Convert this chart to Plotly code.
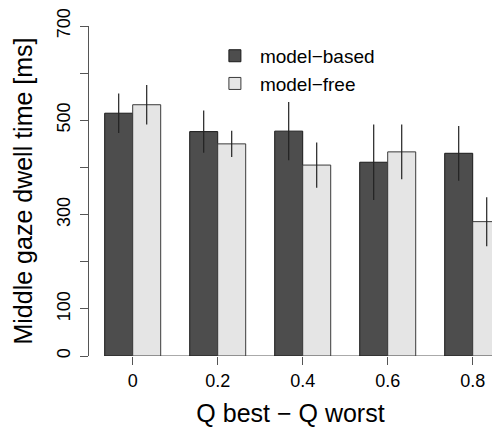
import plotly.graph_objects as go

categories = [0, 0.2, 0.4, 0.6, 0.8]
tick_labels = ["0", "0.2", "0.4", "0.6", "0.8"]
model_based = [515, 476, 477, 411, 430]
model_based_err = [42, 45, 62, 80, 58]
model_free = [533, 450, 405, 433, 285]
model_free_err = [42, 28, 48, 58, 52]
y_ticks = [0, 100, 200, 300, 400, 500, 600, 700]
y_tick_labels = ["0", "100", "", "300", "", "500", "", "700"]

FONT = "Liberation Sans, Arial, Helvetica, sans-serif"
BARGAP = 0.341
spacing = categories[1] - categories[0]

fig = go.Figure()
fig.add_trace(go.Bar(
    x=categories, y=model_based, name="model\u2212based",
    marker=dict(color="#4d4d4d", line=dict(color="#1a1a1a", width=1)),
    error_y=dict(type="data", array=model_based_err, visible=True,
                 width=0, thickness=1.2, color="#222222"),
))
fig.add_trace(go.Bar(
    x=categories, y=model_free, name="model\u2212free",
    marker=dict(color="#e5e5e5", line=dict(color="#3a3a3a", width=1)),
    error_y=dict(type="data", array=model_free_err, visible=True,
                 width=0, thickness=1.2, color="#222222"),
))

# R-style baseline from first bar edge to the right
x_left = categories[0] - spacing * (1 - BARGAP) / 2
fig.add_shape(type="line", xref="x", yref="y", x0=x_left, x1=categories[-1] + spacing,
              y0=0, y1=0, line=dict(color="#555555", width=1), layer="below")

fig.update_layout(
    width=492, height=430,
    margin=dict(l=89, r=0, t=26, b=74),
    paper_bgcolor="white", plot_bgcolor="white",
    barmode="group", bargap=BARGAP, bargroupgap=0,
    font=dict(family=FONT, color="black", size=18),
    showlegend=True,
    legend=dict(x=0.30, y=0.967, xanchor="left", yanchor="top",
                font=dict(size=19, family=FONT), itemwidth=40,
                bgcolor="rgba(0,0,0,0)", traceorder="normal"),
    xaxis=dict(
        range=[-0.1028, 0.8454], tickvals=categories, ticktext=tick_labels,
        ticks="outside", ticklen=8, tickcolor="#555555", tickwidth=1,
        showline=False, showgrid=False, zeroline=False,
        tickfont=dict(size=18),
        title=dict(text="Q best \u2212 Q worst", font=dict(size=25), standoff=14),
    ),
    yaxis=dict(
        range=[0, 700], tickvals=y_ticks, ticktext=y_tick_labels,
        ticks="outside", ticklen=8, tickcolor="#555555", tickwidth=1,
        showline=True, linecolor="#555555", linewidth=1,
        showgrid=False, zeroline=False, tickangle=-90,
        tickfont=dict(size=18), ticklabelstandoff=3,
        title=dict(text="Middle gaze dwell time [ms]", font=dict(size=25), standoff=14),
    ),
)

fig.write_html("out.html")
